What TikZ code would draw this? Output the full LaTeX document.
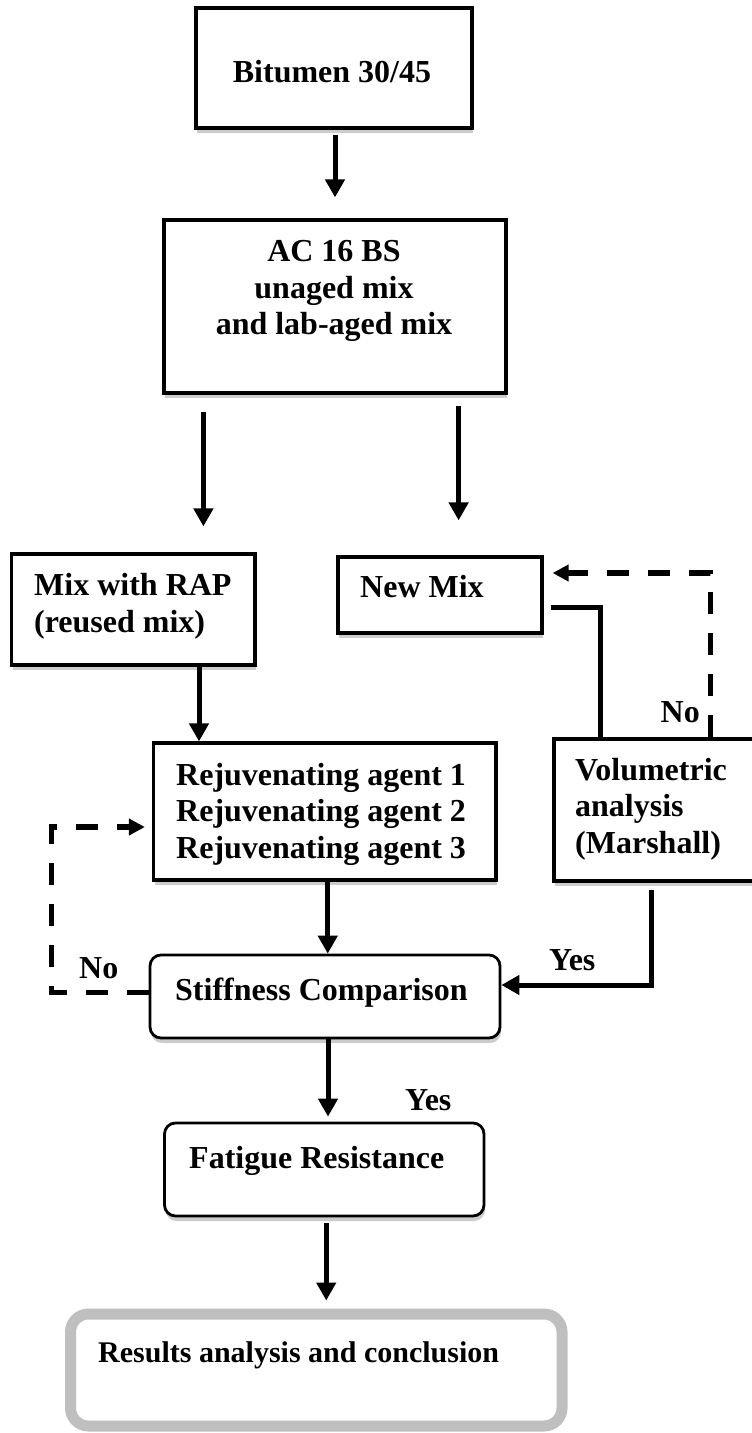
\documentclass[tikz,border=0pt]{standalone}
\usepackage{fontspec}
\setmainfont{Liberation Serif}
\usetikzlibrary{arrows.meta,shadows}

\begin{document}
\begin{tikzpicture}[x=1pt, y=-1pt,
    box/.style={draw, line width=3.2pt, fill=white,
      drop shadow={shadow xshift=1pt, shadow yshift=-5pt, opacity=0.4}},
    rbox/.style={box, line width=2.8pt, rounded corners=11pt},
    lbl/.style={font=\fontsize{32}{36.5}\selectfont\bfseries, inner sep=0pt},
    arr/.style={line width=5pt, -{Triangle[length=18pt,width=19pt]}},
    darr/.style={line width=5.5pt, dash pattern=on 22pt off 19pt,
      -{Triangle[length=16pt,width=16pt]}}]
    \useasboundingbox (0,0) rectangle (752,1433);

    % Cajas
    \node[box, minimum width=276pt, minimum height=120pt] (bitumen) at (334,68) {};
    \node[box, minimum width=342pt, minimum height=173pt] (ac) at (335,306.5) {};
    \node[box, minimum width=243.5pt, minimum height=111pt] (mixrap) at (133.25,609.5) {};
    \node[box, minimum width=204pt, minimum height=76pt] (newmix) at (440,595) {};
    \node[box, minimum width=342.5pt, minimum height=137pt] (rejuv) at (324.75,811.5) {};
    \node[box, minimum width=260pt, minimum height=142pt] (volum) at (684,810) {};
    \node[rbox, minimum width=350pt, minimum height=83pt] (stiff) at (325,996.5) {};
    \node[rbox, minimum width=319.5pt, minimum height=93pt] (fatigue) at (324.25,1169.5) {};
    \node[draw=black!25, line width=11pt, rounded corners=18pt, fill=white,
          minimum width=491.5pt, minimum height=112pt] (results) at (316.25,1370) {};

    % Flechas principales
    \draw[arr, shorten <=5pt, shorten >=21pt] ([xshift=1pt]bitumen.south) -- ([xshift=1pt]bitumen.south |- ac.north);
    \draw[arr, shorten <=17pt, shorten >=26pt] ([xshift=41pt]ac.south west) -- ([xshift=41pt]ac.south west |- mixrap.north);
    \draw[arr, shorten <=11pt, shorten >=35pt] ([xshift=-49pt]ac.south east) -- ([xshift=-49pt]ac.south east |- newmix.north);
    \draw[arr] ([xshift=65.75pt]mixrap.south) -- ([xshift=65.75pt]mixrap.south |- rejuv.north);
    \draw[arr] ([xshift=3pt]rejuv.south) -- ([xshift=3pt]rejuv.south |- stiff.north);
    \draw[arr, shorten >=5pt] ([xshift=3pt]stiff.south) -- ([xshift=3pt]stiff.south |- fatigue.north);
    \draw[arr, shorten <=6pt, shorten >=8pt] ([xshift=2pt]fatigue.south) -- ([xshift=2pt]fatigue.south |- results.north);

    % New Mix -> analisis volumetrico
    \draw[line width=5pt, shorten <=7pt] ([yshift=-12pt]newmix.east) -| ([xshift=48pt]volum.north west);
    % Retorno (No)
    \draw[darr, shorten >=9pt] ([xshift=158pt]volum.north west) |- ([yshift=22pt]newmix.east);
    % Si -> rigidez
    \draw[arr, shorten <=7pt] ([xshift=99pt]volum.south west) |- ([yshift=11.5pt]stiff.east);
    % Retorno rigidez (No)
    \draw[darr, shorten >=7pt] ([yshift=4pt]stiff.west) -- ++(-97pt,0) |- ([yshift=-15.5pt]rejuv.west);

    % Textos
    \node[lbl, anchor=base] (bitumen-t) at (332,82) {Bitumen 30/45};
    \node[lbl, align=center, anchor=north] (ac-t) at (334,240.5) {AC 16 BS\\unaged mix\\and lab-aged mix};
    \node[lbl, align=left, anchor=north west] (mixrap-t) at (34,573.5) {Mix with RAP\\(reused mix)};
    \node[lbl, anchor=base west] (newmix-t) at (360,597) {New Mix};
    \node[lbl, align=left, anchor=north west] (rejuv-t) at (176,763) {Rejuvenating agent 1\\Rejuvenating agent 2\\Rejuvenating agent 3};
    \node[lbl, align=left, anchor=north west] (volum-t) at (575,758) {Volumetric\\analysis\\(Marshall)};
    \node[lbl, anchor=base west] (stiff-t) at (175,1000) {Stiffness Comparison};
    \node[lbl, anchor=base west] (fatigue-t) at (189,1168) {Fatigue Resistance};
    \node[lbl, font=\fontsize{30}{34}\selectfont\bfseries, anchor=base west] (results-t) at (98,1362) {Results analysis and conclusion};

    % Etiquetas
    \node[lbl, anchor=base east] (no-right) at (700,722) {No};
    \node[lbl, anchor=base west] (yes-right) at (549,970) {Yes};
    \node[lbl, anchor=base west] (no-left) at (79,978) {No};
    \node[lbl, anchor=base west] (yes-down) at (405,1110) {Yes};
  \end{tikzpicture}
\end{document}
